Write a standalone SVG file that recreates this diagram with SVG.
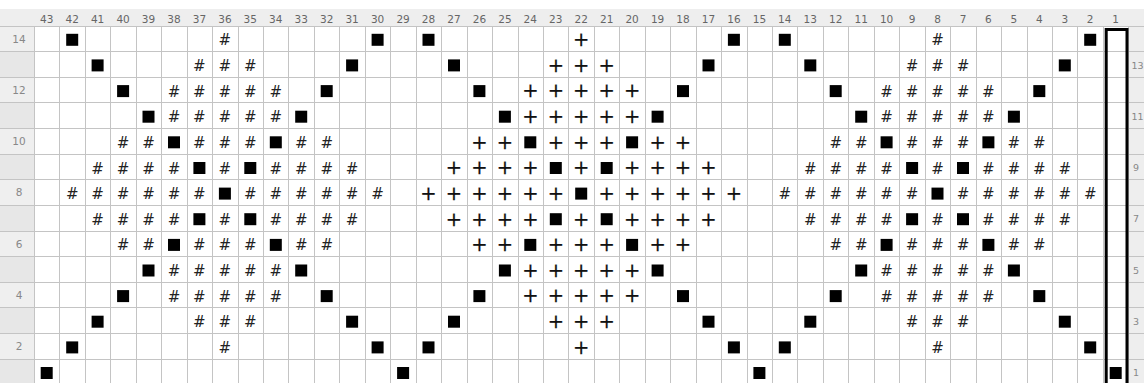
<svg xmlns="http://www.w3.org/2000/svg" xmlns:xlink="http://www.w3.org/1999/xlink" width="1144" height="383" viewBox="0 0 1144 383">
<style>
.hdr{font-family:"DejaVu Sans",sans-serif;font-size:10.5px;fill:#666;text-anchor:middle}
.rl{font-family:"DejaVu Sans",sans-serif;font-size:10.5px;fill:#888;text-anchor:middle}
.rr{font-family:"DejaVu Sans",sans-serif;font-size:9.5px;fill:#888;text-anchor:start}
.h{font-family:"DejaVu Sans",sans-serif;font-size:15px;fill:#222;text-anchor:middle}
.p{font-family:"DejaVu Sans",sans-serif;font-size:19.5px;fill:#111;text-anchor:middle;stroke:#111;stroke-width:0.25px}
.grid{stroke:#c4c4c4;stroke-width:1;fill:none}
</style>
<defs>
<rect id="sq" x="-6" y="-6" width="12" height="12" fill="#000"/>
</defs>
<rect width="1144" height="383" fill="#fff"/>
<g id="margins">
<rect x="0" y="9" width="1144" height="17" fill="#eeeeee"/>
<rect x="0" y="26" width="34" height="357" fill="#efefef"/>
<rect x="0" y="51.5" width="34" height="25.6" fill="#e7e7e7"/>
<rect x="0" y="102.9" width="34" height="25.6" fill="#e7e7e7"/>
<rect x="0" y="154.2" width="34" height="25.6" fill="#e7e7e7"/>
<rect x="0" y="205.4" width="34" height="25.6" fill="#e7e7e7"/>
<rect x="0" y="256.7" width="34" height="25.6" fill="#e7e7e7"/>
<rect x="0" y="307.9" width="34" height="25.6" fill="#e7e7e7"/>
<rect x="0" y="359.2" width="34" height="25.6" fill="#e7e7e7"/>
<rect x="1129" y="26" width="15" height="357" fill="#eeeeee"/>
</g>
<g id="grid" class="grid">
<path d="M34.5 26V383M59.5 26V383M85.5 26V383M110.5 26V383M136.5 26V383M161.5 26V383M187.5 26V383M212.5 26V383M238.5 26V383M263.5 26V383M288.5 26V383M314.5 26V383M339.5 26V383M365.5 26V383M390.5 26V383M416.5 26V383M441.5 26V383M467.5 26V383M492.5 26V383M518.5 26V383M543.5 26V383M568.5 26V383M594.5 26V383M619.5 26V383M645.5 26V383M670.5 26V383M696.5 26V383M721.5 26V383M747.5 26V383M772.5 26V383M797.5 26V383M823.5 26V383M848.5 26V383M874.5 26V383M899.5 26V383M925.5 26V383M950.5 26V383M976.5 26V383M1001.5 26V383M1027.5 26V383M1052.5 26V383M1077.5 26V383M1103.5 26V383M1128.5 26V383"/>
<path d="M0 26.5H1144M0 51.5H1144M0 77.5H1144M0 102.5H1144M0 128.5H1144M0 154.5H1144M0 179.5H1144M0 205.5H1144M0 231.5H1144M0 256.5H1144M0 282.5H1144M0 307.5H1144M0 333.5H1144M0 359.5H1144"/>
</g>
<g id="column-labels">
<text class="hdr" x="46.7" y="23">43</text><text class="hdr" x="72.2" y="23">42</text><text class="hdr" x="97.6" y="23">41</text><text class="hdr" x="123.1" y="23">40</text><text class="hdr" x="148.5" y="23">39</text><text class="hdr" x="174.0" y="23">38</text><text class="hdr" x="199.4" y="23">37</text><text class="hdr" x="224.9" y="23">36</text><text class="hdr" x="250.3" y="23">35</text><text class="hdr" x="275.8" y="23">34</text><text class="hdr" x="301.2" y="23">33</text><text class="hdr" x="326.7" y="23">32</text><text class="hdr" x="352.1" y="23">31</text><text class="hdr" x="377.6" y="23">30</text><text class="hdr" x="403.1" y="23">29</text><text class="hdr" x="428.5" y="23">28</text><text class="hdr" x="454.0" y="23">27</text><text class="hdr" x="479.4" y="23">26</text><text class="hdr" x="504.9" y="23">25</text><text class="hdr" x="530.3" y="23">24</text><text class="hdr" x="555.8" y="23">23</text><text class="hdr" x="581.2" y="23">22</text><text class="hdr" x="606.7" y="23">21</text><text class="hdr" x="632.1" y="23">20</text><text class="hdr" x="657.6" y="23">19</text><text class="hdr" x="683.0" y="23">18</text><text class="hdr" x="708.5" y="23">17</text><text class="hdr" x="733.9" y="23">16</text><text class="hdr" x="759.4" y="23">15</text><text class="hdr" x="784.8" y="23">14</text><text class="hdr" x="810.3" y="23">13</text><text class="hdr" x="835.7" y="23">12</text><text class="hdr" x="861.2" y="23">11</text><text class="hdr" x="886.6" y="23">10</text><text class="hdr" x="912.1" y="23">9</text><text class="hdr" x="937.5" y="23">8</text><text class="hdr" x="963.0" y="23">7</text><text class="hdr" x="988.4" y="23">6</text><text class="hdr" x="1013.9" y="23">5</text><text class="hdr" x="1039.3" y="23">4</text><text class="hdr" x="1064.8" y="23">3</text><text class="hdr" x="1090.2" y="23">2</text><text class="hdr" x="1115.7" y="23">1</text>
</g>
<g id="row-labels">
<text class="rl" x="19" y="43">14</text><text class="rl" x="19" y="94">12</text><text class="rl" x="19" y="145">10</text><text class="rl" x="19" y="196">8</text><text class="rl" x="19" y="248">6</text><text class="rl" x="19" y="299">4</text><text class="rl" x="19" y="350">2</text>
<text class="rr" x="1131.5" y="68.5">13</text><text class="rr" x="1131.5" y="119.5">11</text><text class="rr" x="1133" y="171">9</text><text class="rr" x="1133" y="222">7</text><text class="rr" x="1133" y="273.5">5</text><text class="rr" x="1133" y="324.5">3</text><text class="rr" x="1133" y="376">1</text>
</g>
<g id="squares">
<use xlink:href="#sq" x="72.2" y="39.8"/><use xlink:href="#sq" x="377.6" y="39.8"/><use xlink:href="#sq" x="428.5" y="39.8"/><use xlink:href="#sq" x="733.9" y="39.8"/><use xlink:href="#sq" x="784.8" y="39.8"/><use xlink:href="#sq" x="1090.2" y="39.8"/>
<use xlink:href="#sq" x="97.6" y="65.4"/><use xlink:href="#sq" x="352.1" y="65.4"/><use xlink:href="#sq" x="454.0" y="65.4"/><use xlink:href="#sq" x="708.5" y="65.4"/><use xlink:href="#sq" x="810.3" y="65.4"/><use xlink:href="#sq" x="1064.8" y="65.4"/>
<use xlink:href="#sq" x="123.1" y="91.1"/><use xlink:href="#sq" x="326.7" y="91.1"/><use xlink:href="#sq" x="479.4" y="91.1"/><use xlink:href="#sq" x="683.0" y="91.1"/><use xlink:href="#sq" x="835.7" y="91.1"/><use xlink:href="#sq" x="1039.3" y="91.1"/>
<use xlink:href="#sq" x="148.5" y="116.7"/><use xlink:href="#sq" x="301.2" y="116.7"/><use xlink:href="#sq" x="504.9" y="116.7"/><use xlink:href="#sq" x="657.6" y="116.7"/><use xlink:href="#sq" x="861.2" y="116.7"/><use xlink:href="#sq" x="1013.9" y="116.7"/>
<use xlink:href="#sq" x="174.0" y="142.3"/><use xlink:href="#sq" x="275.8" y="142.3"/><use xlink:href="#sq" x="530.3" y="142.3"/><use xlink:href="#sq" x="632.1" y="142.3"/><use xlink:href="#sq" x="886.6" y="142.3"/><use xlink:href="#sq" x="988.4" y="142.3"/>
<use xlink:href="#sq" x="199.4" y="168.0"/><use xlink:href="#sq" x="250.3" y="168.0"/><use xlink:href="#sq" x="555.8" y="168.0"/><use xlink:href="#sq" x="606.7" y="168.0"/><use xlink:href="#sq" x="912.1" y="168.0"/><use xlink:href="#sq" x="963.0" y="168.0"/>
<use xlink:href="#sq" x="224.9" y="193.6"/><use xlink:href="#sq" x="581.2" y="193.6"/><use xlink:href="#sq" x="937.5" y="193.6"/>
<use xlink:href="#sq" x="199.4" y="219.2"/><use xlink:href="#sq" x="250.3" y="219.2"/><use xlink:href="#sq" x="555.8" y="219.2"/><use xlink:href="#sq" x="606.7" y="219.2"/><use xlink:href="#sq" x="912.1" y="219.2"/><use xlink:href="#sq" x="963.0" y="219.2"/>
<use xlink:href="#sq" x="174.0" y="244.9"/><use xlink:href="#sq" x="275.8" y="244.9"/><use xlink:href="#sq" x="530.3" y="244.9"/><use xlink:href="#sq" x="632.1" y="244.9"/><use xlink:href="#sq" x="886.6" y="244.9"/><use xlink:href="#sq" x="988.4" y="244.9"/>
<use xlink:href="#sq" x="148.5" y="270.5"/><use xlink:href="#sq" x="301.2" y="270.5"/><use xlink:href="#sq" x="504.9" y="270.5"/><use xlink:href="#sq" x="657.6" y="270.5"/><use xlink:href="#sq" x="861.2" y="270.5"/><use xlink:href="#sq" x="1013.9" y="270.5"/>
<use xlink:href="#sq" x="123.1" y="296.1"/><use xlink:href="#sq" x="326.7" y="296.1"/><use xlink:href="#sq" x="479.4" y="296.1"/><use xlink:href="#sq" x="683.0" y="296.1"/><use xlink:href="#sq" x="835.7" y="296.1"/><use xlink:href="#sq" x="1039.3" y="296.1"/>
<use xlink:href="#sq" x="97.6" y="321.7"/><use xlink:href="#sq" x="352.1" y="321.7"/><use xlink:href="#sq" x="454.0" y="321.7"/><use xlink:href="#sq" x="708.5" y="321.7"/><use xlink:href="#sq" x="810.3" y="321.7"/><use xlink:href="#sq" x="1064.8" y="321.7"/>
<use xlink:href="#sq" x="72.2" y="347.4"/><use xlink:href="#sq" x="377.6" y="347.4"/><use xlink:href="#sq" x="428.5" y="347.4"/><use xlink:href="#sq" x="733.9" y="347.4"/><use xlink:href="#sq" x="784.8" y="347.4"/><use xlink:href="#sq" x="1090.2" y="347.4"/>
<use xlink:href="#sq" x="46.7" y="373.0"/><use xlink:href="#sq" x="403.1" y="373.0"/><use xlink:href="#sq" x="759.4" y="373.0"/><use xlink:href="#sq" x="1115.7" y="373.0"/>
</g>
<g id="hashes-left">
<text class="h" x="224.9" y="45.3">#</text>
<text class="h" x="199.4 224.9 250.3" y="70.9">###</text>
<text class="h" x="174.0 199.4 224.9 250.3 275.8" y="96.6">#####</text>
<text class="h" x="174.0 199.4 224.9 250.3 275.8" y="122.2">#####</text>
<text class="h" x="123.1 148.5 199.4 224.9 250.3 301.2 326.7" y="147.8">#######</text>
<text class="h" x="97.6 123.1 148.5 174.0 224.9 275.8 301.2 326.7 352.1" y="173.5">#########</text>
<text class="h" x="72.2 97.6 123.1 148.5 174.0 199.4 250.3 275.8 301.2 326.7 352.1 377.6" y="199.1">############</text>
<text class="h" x="97.6 123.1 148.5 174.0 224.9 275.8 301.2 326.7 352.1" y="224.7">#########</text>
<text class="h" x="123.1 148.5 199.4 224.9 250.3 301.2 326.7" y="250.4">#######</text>
<text class="h" x="174.0 199.4 224.9 250.3 275.8" y="276.0">#####</text>
<text class="h" x="174.0 199.4 224.9 250.3 275.8" y="301.6">#####</text>
<text class="h" x="199.4 224.9 250.3" y="327.2">###</text>
<text class="h" x="224.9" y="352.9">#</text>
</g>
<g id="hashes-right">
<text class="h" x="937.5" y="45.3">#</text>
<text class="h" x="912.1 937.5 963.0" y="70.9">###</text>
<text class="h" x="886.6 912.1 937.5 963.0 988.4" y="96.6">#####</text>
<text class="h" x="886.6 912.1 937.5 963.0 988.4" y="122.2">#####</text>
<text class="h" x="835.7 861.2 912.1 937.5 963.0 1013.9 1039.3" y="147.8">#######</text>
<text class="h" x="810.3 835.7 861.2 886.6 937.5 988.4 1013.9 1039.3 1064.8" y="173.5">#########</text>
<text class="h" x="784.8 810.3 835.7 861.2 886.6 912.1 963.0 988.4 1013.9 1039.3 1064.8 1090.2" y="199.1">############</text>
<text class="h" x="810.3 835.7 861.2 886.6 937.5 988.4 1013.9 1039.3 1064.8" y="224.7">#########</text>
<text class="h" x="835.7 861.2 912.1 937.5 963.0 1013.9 1039.3" y="250.4">#######</text>
<text class="h" x="886.6 912.1 937.5 963.0 988.4" y="276.0">#####</text>
<text class="h" x="886.6 912.1 937.5 963.0 988.4" y="301.6">#####</text>
<text class="h" x="912.1 937.5 963.0" y="327.2">###</text>
<text class="h" x="937.5" y="352.9">#</text>
</g>
<g id="pluses">
<text class="p" x="581.2" y="46.1">+</text>
<text class="p" x="555.8 581.2 606.7" y="71.7">+++</text>
<text class="p" x="530.3 555.8 581.2 606.7 632.1" y="97.4">+++++</text>
<text class="p" x="530.3 555.8 581.2 606.7 632.1" y="123.0">+++++</text>
<text class="p" x="479.4 504.9 555.8 581.2 606.7 657.6 683.0" y="148.6">+++++++</text>
<text class="p" x="454.0 479.4 504.9 530.3 581.2 632.1 657.6 683.0 708.5" y="174.3">+++++++++</text>
<text class="p" x="428.5 454.0 479.4 504.9 530.3 555.8 606.7 632.1 657.6 683.0 708.5 733.9" y="199.9">++++++++++++</text>
<text class="p" x="454.0 479.4 504.9 530.3 581.2 632.1 657.6 683.0 708.5" y="225.5">+++++++++</text>
<text class="p" x="479.4 504.9 555.8 581.2 606.7 657.6 683.0" y="251.2">+++++++</text>
<text class="p" x="530.3 555.8 581.2 606.7 632.1" y="276.8">+++++</text>
<text class="p" x="530.3 555.8 581.2 606.7 632.1" y="302.4">+++++</text>
<text class="p" x="555.8 581.2 606.7" y="328.0">+++</text>
<text class="p" x="581.2" y="353.7">+</text>
</g>
<g id="column-1-box">
<rect x="1106.2" y="29.5" width="20.8" height="360" fill="none" stroke="#000" stroke-width="3"/>
</g>
</svg>
